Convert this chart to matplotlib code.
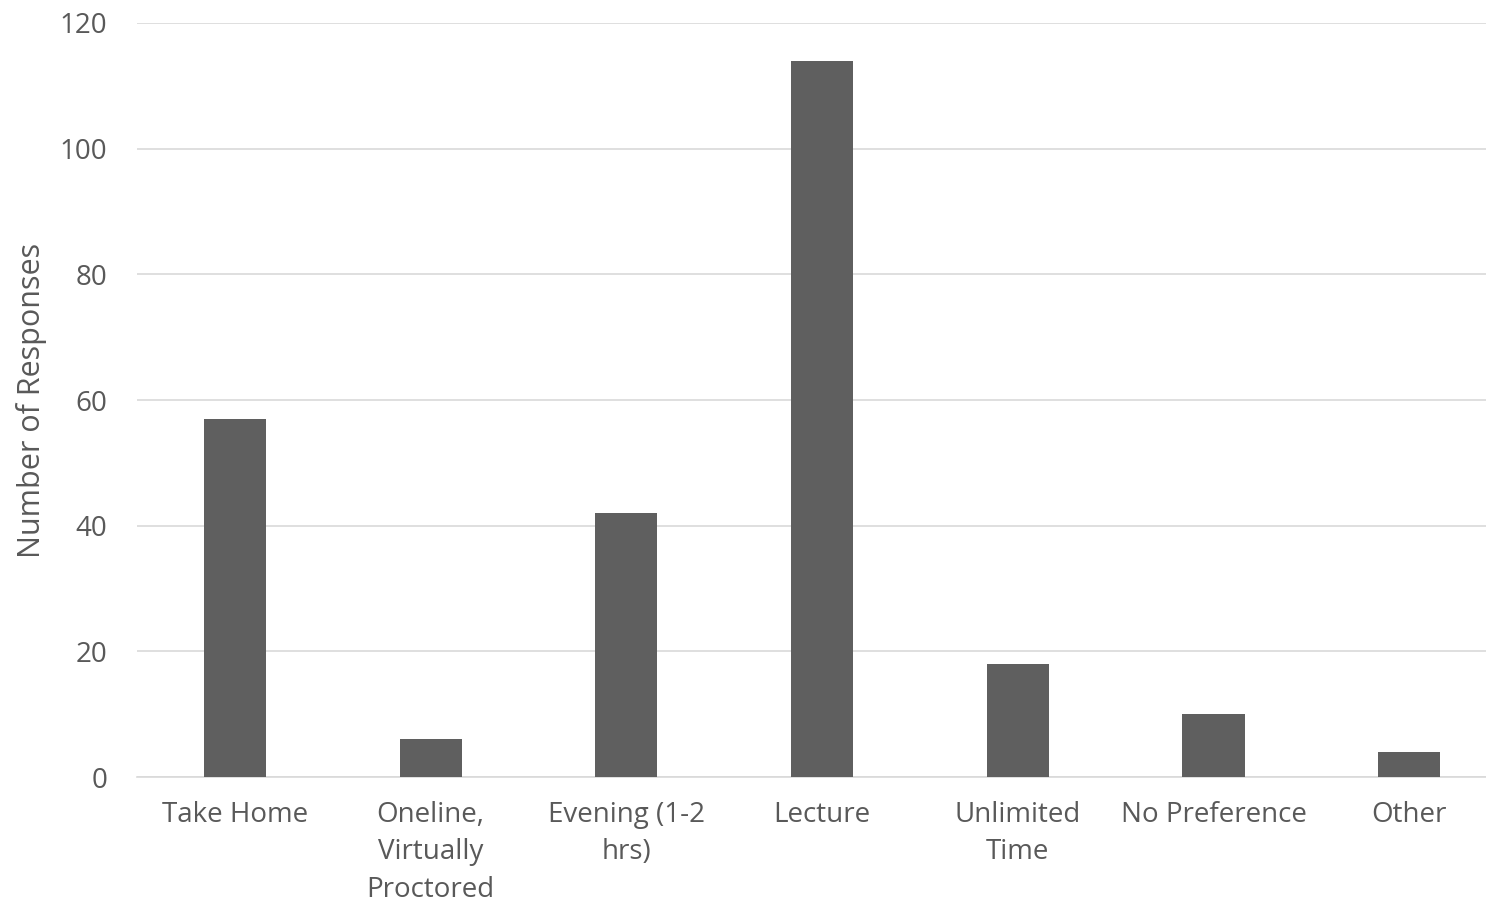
import matplotlib.pyplot as plt
import numpy as np

plt.rcParams['font.family'] = ['Open Sans', 'DejaVu Sans']

categories = ['Take Home', 'Oneline,\nVirtually\nProctored', 'Evening (1-2\nhrs)',
              'Lecture', 'Unlimited\nTime', 'No Preference', 'Other']
responses = [57, 6, 42, 114, 18, 10, 4]

text_color = '#595959'

fig = plt.figure(figsize=(14.86, 9.09), dpi=100)
ax = fig.add_axes([0.0922, 0.1452, 0.922, 0.8295])

x = np.arange(len(categories))
ax.bar(x, responses, width=0.317, color='#5f5f5f', zorder=3)

ax.set_xlim(-0.5, len(categories) - 0.5)
ax.set_ylim(0, 120)
ax.set_yticks(range(0, 121, 20))
ax.set_xticks(x)
ax.set_xticklabels(categories, linespacing=1.45, va='top')
ax.grid(axis='y', color='#d9d9d9', linewidth=1.2, zorder=0)
ax.tick_params(axis='both', length=0, labelsize=20, colors=text_color)
ax.tick_params(axis='x', pad=17)
ax.tick_params(axis='y', pad=21.5)
for s in ['top', 'right', 'left']:
    ax.spines[s].set_visible(False)
ax.spines['bottom'].set_color('#d9d9d9')
ax.spines['bottom'].set_linewidth(1.2)

ax.set_ylabel('Number of Responses', fontsize=22, color=text_color, labelpad=9)

fig.savefig('out.png', dpi=100)
